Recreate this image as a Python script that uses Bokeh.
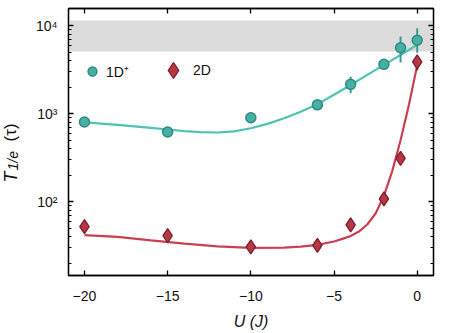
import math
from bokeh.plotting import figure
from bokeh.layouts import row
from bokeh.models import (Range1d, FixedTicker, LinearAxis, LogAxis, BoxAnnotation,
                          Label, Legend, LegendItem, CustomJSTickFormatter)
from bokeh.embed import file_html
from bokeh.resources import INLINE

# ---------------- data ----------------
U_1d = [-20, -15, -10, -6, -4, -2, -1, 0]
T_1d = [805, 620, 900, 1260, 2150, 3630, 5600, 6800]
T_1d_lo = [805, 620, 900, 1260, 1700, 3630, 3800, 4900]
T_1d_hi = [805, 620, 900, 1260, 2630, 3630, 7500, 9300]

U_2d = [-20, -15, -10, -6, -4, -2, -1, 0]
T_2d = [52.4, 41.4, 30.8, 32.1, 54.8, 108, 312, 3870]
T_2d_lo = [52.4, 41.4, 30.8, 28, 54.8, 108, 312, 3100]
T_2d_hi = [52.4, 41.4, 30.8, 37, 54.8, 108, 312, 4400]

fit_U_1d = [-20, -19, -18, -17, -16, -15, -14, -13, -12, -11, -10,
            -9, -8, -7, -6, -5, -4, -3, -2, -1, 0]
fit_T_1d = [800, 773, 745, 716, 689, 661, 634, 617, 612, 631, 684,
            767, 887, 1052, 1282, 1641, 2113, 2754, 3573, 4634, 6026]

fit_U_2d = [-20, -18, -16, -14, -12, -10, -8, -7, -6, -5, -4.5, -4, -3.5,
            -3, -2.5, -2, -1.5, -1, -0.5, 0]
fit_T_2d = [42, 40, 36.5, 33.5, 31.3, 30, 30.3, 31, 32.5, 35.5, 38, 41, 46,
            55.3, 73.8, 117, 223, 499, 1253, 3530]

band_lo, band_hi = 5070, 11400

x_ticks = [-20, -15, -10, -5, 0]
y_ticks = [100, 1000, 10000]
y_tick_labels = ["10²", "10³", "10⁴"]
y_minor = [d * 10 ** e for e in (1, 2, 3, 4) for d in range(2, 10)]

series_names = ["1D⁺", "2D"]
x_title = "U (J)"
y_title_parts = ["T", "1/e", "(τ)"]

# ---------------- style ----------------
FONT = "Liberation Sans"
TXT = "#111111"
TEAL_FILL = "#45b0a3"
TEAL_EDGE = "#2e8c80"
TEAL_LINE = "#4cc3b3"
RED_FILL = "#b73746"
RED_EDGE = "#7d1e2d"
RED_LINE = "#c94150"

LAB_W = 24
FW, FH = 365, 267
BT, BB = 8, 48

p = figure(frame_width=FW, frame_height=FH,
           min_border_left=68 - LAB_W, min_border_right=12,
           min_border_top=BT, min_border_bottom=BB,
           x_range=Range1d(-20.96, 0.98), y_range=Range1d(14.6, 15600),
           y_axis_type="log", output_backend="svg", toolbar_location=None)
p.background_fill_color = "white"
p.border_fill_color = "white"
p.grid.visible = False
p.outline_line_color = "black"
p.outline_line_width = 1.3

overrides = {t: s for t, s in zip(y_ticks, y_tick_labels)}

def style_axis(ax):
    ax.axis_line_color = "black"
    ax.axis_line_width = 1.3
    ax.major_tick_in = 5
    ax.major_tick_out = 0
    ax.major_tick_line_width = 1.3
    ax.minor_tick_in = 3
    ax.minor_tick_out = 0
    ax.minor_tick_line_width = 1.0
    ax.major_label_text_font = FONT
    ax.major_label_text_font_size = "14px"
    ax.major_label_text_color = TXT

xax = p.xaxis[0]
xax.ticker = FixedTicker(ticks=x_ticks)
style_axis(xax)
xax.major_label_standoff = 15
xax.axis_label = x_title
xax.axis_label_text_font = FONT
xax.axis_label_text_font_size = "16px"
xax.axis_label_text_font_style = "italic"
xax.axis_label_text_color = TXT
xax.axis_label_standoff = 9

yax = p.yaxis[0]
yax.ticker = FixedTicker(ticks=y_ticks, minor_ticks=y_minor)
style_axis(yax)
yax.major_label_overrides = overrides
yax.major_label_standoff = 11

top = LinearAxis(ticker=FixedTicker(ticks=x_ticks),
                 formatter=CustomJSTickFormatter(code="return ''"))
style_axis(top)
p.add_layout(top, "above")

right = LogAxis(ticker=FixedTicker(ticks=y_ticks, minor_ticks=y_minor),
                formatter=CustomJSTickFormatter(code="return ''"))
style_axis(right)
p.add_layout(right, "right")

# gray band
p.add_layout(BoxAnnotation(bottom=band_lo, top=band_hi, fill_color="#dcdcdc",
                           fill_alpha=1.0, line_color=None, level="underlay"))

# fit lines
p.line(fit_U_1d, fit_T_1d, line_color=TEAL_LINE, line_width=2.2)
p.line(fit_U_2d, fit_T_2d, line_color=RED_LINE, line_width=2.2)

# error bars
p.segment(U_1d, T_1d_lo, U_1d, T_1d_hi, line_color="#3a9d91", line_width=2)
p.segment(U_2d, T_2d_lo, U_2d, T_2d_hi, line_color=RED_EDGE, line_width=2)

# markers
r1 = p.scatter(U_1d, T_1d, marker="circle", size=10, fill_color=TEAL_FILL,
               line_color=TEAL_EDGE, line_width=1.5)
r2 = p.scatter(U_2d, T_2d, marker="diamond", size=14, fill_color=RED_FILL,
               line_color=RED_EDGE, line_width=1.3)

# legends (two, so each marker gets its own size)
leg1 = Legend(items=[LegendItem(label=series_names[0], renderers=[r1])],
              location=(13, 193), glyph_width=22, glyph_height=22,
              label_standoff=3, padding=0, margin=0, spacing=0,
              background_fill_alpha=0, border_line_color=None,
              label_text_font=FONT, label_text_font_size="14px",
              label_text_color=TXT)
leg2 = Legend(items=[LegendItem(label=series_names[1], renderers=[r2])],
              location=(85, 185), glyph_width=40, glyph_height=40,
              label_standoff=0, padding=0, margin=0, spacing=0,
              background_fill_alpha=0, border_line_color=None,
              label_text_font=FONT, label_text_font_size="14px",
              label_text_color=TXT)
p.add_layout(leg1)
p.add_layout(leg2)

# ---------------- y-axis title panel (real text with subscript) ----------------
lab = figure(frame_width=LAB_W, frame_height=FH, min_border_left=0, min_border_right=0,
             min_border_top=BT, min_border_bottom=BB,
             x_axis_type=None, y_axis_type=None,
             x_range=Range1d(0, 1), y_range=Range1d(0, 1),
             output_backend="svg", toolbar_location=None)
lab.outline_line_color = None
lab.grid.visible = False
lab.background_fill_color = "white"
lab.border_fill_color = "white"

ang = math.pi / 2
# y positions measured up from the frame bottom (screen y 283 in the page)
lab.add_layout(Label(x=10, y=283 - 190, x_units="screen", y_units="screen",
                     text=y_title_parts[0], angle=ang, text_font=FONT,
                     text_font_size="18px", text_font_style="italic",
                     text_color=TXT, text_baseline="alphabetic", text_align="left"))
lab.add_layout(Label(x=12, y=283 - 178, x_units="screen", y_units="screen",
                     text=y_title_parts[1], angle=ang, text_font=FONT,
                     text_font_size="14px", text_font_style="italic",
                     text_color=TXT, text_baseline="alphabetic", text_align="left"))
lab.add_layout(Label(x=10, y=283 - 149, x_units="screen", y_units="screen",
                     text=y_title_parts[2], angle=ang, text_font=FONT,
                     text_font_size="17px", text_color=TXT,
                     text_baseline="alphabetic", text_align="left"))

layout = row(lab, p, spacing=0)
open("out.html", "w").write(file_html(layout, INLINE))
